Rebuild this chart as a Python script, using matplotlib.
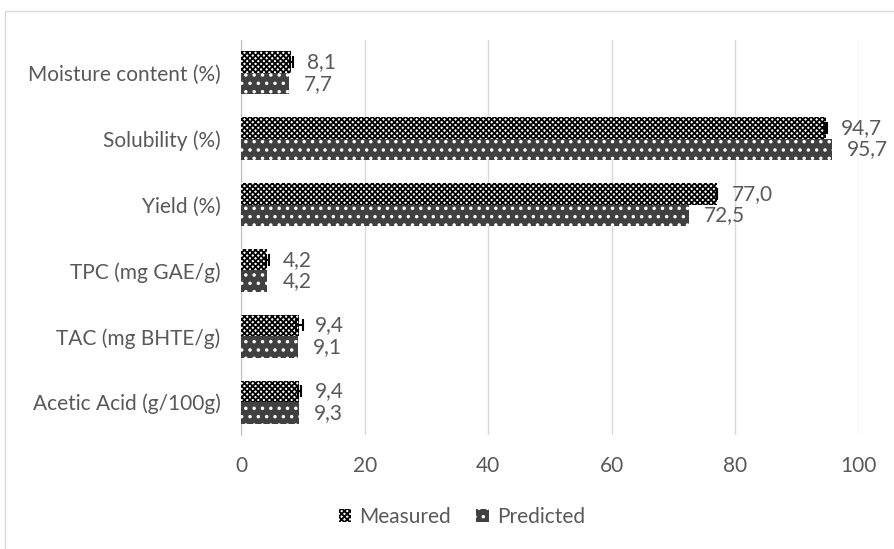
import matplotlib
matplotlib.use("Agg")
import matplotlib.pyplot as plt
from matplotlib.patches import Rectangle
import numpy as np

# данные
categories = ["Moisture content (%)", "Solubility (%)", "Yield (%)", "TPC (mg GAE/g)",
              "TAC (mg BHTE/g)", "Acetic Acid (g/100g)"]
measured = [8.1, 94.7, 77.0, 4.2, 9.4, 9.4]
measured_err = [0.2, 0.2, 0.0, 0.2, 0.5, 0.2]
predicted = [7.7, 95.7, 72.5, 4.2, 9.1, 9.3]
x_ticks = [0, 20, 40, 60, 80, 100]

TEXT = "#595959"
plt.rcParams['font.family'] = ['Lato', 'DejaVu Sans']
plt.rcParams['hatch.linewidth'] = 1.3

fig = plt.figure(figsize=(8.94, 5.49), dpi=100)
ax = fig.add_axes([0.2701, 0.2077, 0.6902, 0.7195])

y = np.arange(len(categories))
h = 0.327

# Measured: плотная клетка, Predicted: тёмный с белыми точками
b1 = ax.barh(y - h / 2, measured, height=h, color="white", edgecolor="black",
             hatch="xxxxxx", linewidth=0, label="Measured", zorder=3)
b2 = ax.barh(y + h / 2, predicted, height=h, color="#404040", edgecolor="white",
             hatch="..", linewidth=0, label="Predicted", zorder=3)
ax.errorbar(measured, y - h / 2, xerr=measured_err, fmt="none", ecolor="black",
            elinewidth=1.5, capsize=4, capthick=1.5, zorder=4)

for vals, off in ((measured, -h / 2), (predicted, h / 2)):
    for i, v in enumerate(vals):
        ax.annotate(f"{v:.1f}".replace(".", ","), (v, i + off), xytext=(11, 0),
                    textcoords="offset points", va="center", ha="left",
                    fontsize=15, color=TEXT)

ax.set_xlim(0, 100)
ax.set_ylim(len(categories) - 0.5, -0.5)
ax.set_xticks(x_ticks)
ax.set_yticks(y)
ax.set_yticklabels(categories)
ax.tick_params(axis="both", length=0, labelsize=15, colors=TEXT)
ax.tick_params(axis="x", pad=15)
ax.tick_params(axis="y", pad=15)
ax.grid(axis="x", color="#d9d9d9", linewidth=1, zorder=0)
ax.set_axisbelow(True)
for s in ("top", "right", "bottom"):
    ax.spines[s].set_visible(False)
ax.spines["left"].set_color("#bfbfbf")

fig.legend(handles=[b1, b2], loc="center", bbox_to_anchor=(462 / 894, 0.0583),
           ncol=2, frameon=False, fontsize=15, labelcolor=TEXT,
           handlelength=0.6, handleheight=0.6, handletextpad=0.4, columnspacing=1.2)

# внешняя рамка диаграммы
fig.patches.append(Rectangle((4.5 / 894, -0.05), 1.0, 1.05 - 10.5 / 549,
                             transform=fig.transFigure, fill=False,
                             edgecolor="#d9d9d9", linewidth=1))

fig.savefig("out.png", dpi=100, facecolor="white")
